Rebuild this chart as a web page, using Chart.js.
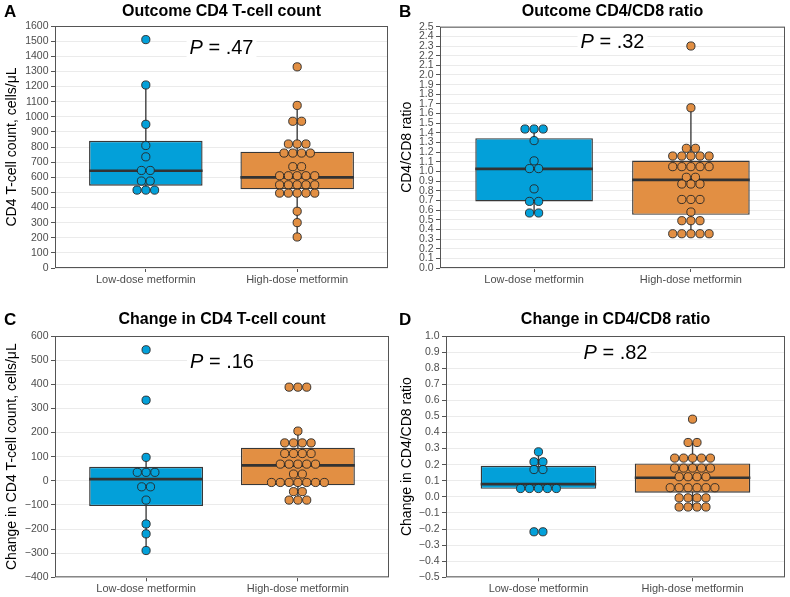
<!DOCTYPE html>
<html>
<head>
<meta charset="utf-8">
<script src="https://cdn.jsdelivr.net/npm/chart.js@4.4.1/dist/chart.umd.min.js"></script>
<style>
  body { margin: 0; background: #fff; width: 790px; height: 597px; position: relative; overflow: hidden; }
  .panel { position: absolute; }
</style>
</head>
<body>
<div class="panel" style="left:0;top:0"><canvas id="chartA" width="395" height="298"></canvas></div>
<div class="panel" style="left:395px;top:0"><canvas id="chartB" width="395" height="298"></canvas></div>
<div class="panel" style="left:0;top:308px"><canvas id="chartC" width="395" height="289"></canvas></div>
<div class="panel" style="left:395px;top:308px"><canvas id="chartD" width="395" height="289"></canvas></div>
<script>
const groups = ['Low-dose metformin', 'High-dose metformin'];
const fillColors = ['#03a0d9', '#e28f43'];

// box stats are [lower whisker, q1, median, q3, upper whisker]

// A - outcome CD4 T-cell count
const countLow = [1510, 1210, 950, 810, 735, 645, 645, 575, 575, 515, 515, 515];
const countHigh = [1330, 1075, 970, 970, 820, 820, 820, 760, 760, 760, 760, 670, 670,
  610, 610, 610, 610, 610, 550, 550, 550, 550, 550, 495, 495, 495, 495, 495, 375, 300, 205];
const countLowBox = [515, 544, 643, 841, 1210];
const countHighBox = [205, 520, 599, 769, 1075];

// B - outcome CD4/CD8 ratio
const ratioLow = [1.44, 1.44, 1.44, 1.32, 1.11, 1.03, 1.03, 0.82, 0.69, 0.69, 0.57, 0.57];
const ratioHigh = [2.30, 1.66, 1.24, 1.24, 1.16, 1.16, 1.16, 1.16, 1.16, 1.05, 1.05, 1.05, 1.05, 1.05,
  0.94, 0.94, 0.87, 0.87, 0.87, 0.71, 0.71, 0.71, 0.58, 0.49, 0.49, 0.49, 0.355, 0.355, 0.355, 0.355, 0.355];
const ratioLowBox = [0.57, 0.689, 1.027, 1.345, 1.44];
const ratioHighBox = [0.355, 0.551, 0.913, 1.113, 1.66];

// C - change in CD4 T-cell count
const countChangeLow = [543, 334, 97, 35, 35, 35, -25, -25, -80, -179, -220, -289];
const countChangeHigh = [388, 388, 388, 206, 157, 157, 157, 157, 113, 113, 113, 113, 69, 69, 69, 69, 69,
  28, 28, -7, -7, -7, -7, -7, -7, -7, -45, -45, -80, -80, -80];
const countChangeLowBox = [-289, -105, 7, 58, 97];
const countChangeHighBox = [-80, -19, 64, 137, 206];

// D - change in CD4/CD8 ratio
const ratioChangeLow = [0.28, 0.218, 0.218, 0.17, 0.17, 0.052, 0.052, 0.052, 0.052, 0.052, -0.217, -0.217];
const ratioChangeHigh = [0.483, 0.338, 0.338, 0.241, 0.241, 0.241, 0.241, 0.241, 0.179, 0.179, 0.179, 0.179, 0.179,
  0.125, 0.125, 0.125, 0.125, 0.057, 0.057, 0.057, 0.057, 0.057, 0.057, -0.006, -0.006, -0.006, -0.006,
  -0.063, -0.063, -0.063, -0.063];
const ratioChangeLowBox = [0.05, 0.05, 0.079, 0.193, 0.28];
const ratioChangeHighBox = [-0.063, 0.026, 0.119, 0.208, 0.338];

const pValues = ['.47', '.32', '.16', '.82'];

Chart.defaults.font.family = '"Liberation Sans", Arial, Helvetica, sans-serif';

const BOX_W = 0.75;   // box width in category units
const DOT_STEP = 0.058; // dot spacing in category units

// spread equal values side by side, centred on the category
function dotRow(values, xc) {
  const counts = {};
  values.forEach(v => { counts[v] = (counts[v] || 0) + 1; });
  const seen = {};
  return values.map(v => {
    seen[v] = (seen[v] || 0) + 1;
    return { x: xc + (seen[v] - 1 - (counts[v] - 1) / 2) * DOT_STEP, y: v };
  });
}

function fmtTick(v, dec) {
  return v.toFixed(dec).replace('-', '\u2212');
}

const panelExtras = {
  id: 'panelExtras',
  afterDatasetsDraw(chart, args, o) {
    const { ctx, chartArea: a } = chart;
    const xs = chart.scales.x, ys = chart.scales.y;
    ctx.save();
    // p value label with white backing
    const px = xs.getPixelForValue(1.5), py = ys.getPixelForValue(o.pY);
    ctx.font = 'italic 20px "Liberation Sans", Arial, sans-serif';
    const wP = ctx.measureText('P').width;
    ctx.font = '20px "Liberation Sans", Arial, sans-serif';
    const rest = ' = ' + o.p;
    const wR = ctx.measureText(rest).width;
    const x0 = px - (wP + wR) / 2;
    ctx.fillStyle = '#fff';
    ctx.fillRect(x0 - 3, py - 11, wP + wR + 6, 22);
    ctx.fillStyle = '#000';
    ctx.textBaseline = 'middle';
    ctx.font = 'italic 20px "Liberation Sans", Arial, sans-serif';
    ctx.fillText('P', x0, py);
    ctx.font = '20px "Liberation Sans", Arial, sans-serif';
    ctx.fillText(rest, x0 + wP, py);
    // panel frame
    ctx.strokeStyle = '#555';
    ctx.lineWidth = 1;
    ctx.strokeRect(a.left + 0.5, a.top + 0.5, a.right - a.left - 1, a.bottom - a.top - 1);
    // panel letter
    ctx.font = 'bold 17px "Liberation Sans", Arial, sans-serif';
    ctx.textBaseline = 'middle';
    ctx.fillText(o.letter, 4, 12);
    ctx.restore();
  }
};

function makePanel(id, p) {
  const lowBox = p.lowBox, highBox = p.highBox;
  const whiskers = [
    { x: 1, y: lowBox[0] }, { x: 1, y: lowBox[4] }, { x: 1.5, y: null },
    { x: 2, y: highBox[0] }, { x: 2, y: highBox[4] }
  ];
  const medians = [
    { x: 1 - BOX_W / 2, y: lowBox[2] }, { x: 1 + BOX_W / 2, y: lowBox[2] }, { x: 1.5, y: null },
    { x: 2 - BOX_W / 2, y: highBox[2] }, { x: 2 + BOX_W / 2, y: highBox[2] }
  ];
  new Chart(document.getElementById(id), {
    type: 'scatter',
    data: {
      datasets: [
        {
          data: dotRow(p.low, 1), backgroundColor: fillColors[0], borderColor: '#262626',
          borderWidth: 0.9, pointRadius: 4.1, order: 0
        },
        {
          data: dotRow(p.high, 2), backgroundColor: fillColors[1], borderColor: '#262626',
          borderWidth: 0.9, pointRadius: 4.1, order: 0
        },
        {
          type: 'line', data: medians, borderColor: '#333', borderWidth: 2.6,
          pointRadius: 0, spanGaps: false, order: 1
        },
        {
          type: 'bar',
          data: [{ x: 1, y: [lowBox[1], lowBox[3]] }, { x: 2, y: [highBox[1], highBox[3]] }],
          backgroundColor: fillColors, borderColor: '#383838', borderWidth: 1.4,
          borderSkipped: false, barPercentage: BOX_W, categoryPercentage: 1, order: 2
        },
        {
          type: 'line', data: whiskers, borderColor: '#404040', borderWidth: 1.4,
          pointRadius: 0, spanGaps: false, order: 3
        }
      ]
    },
    options: {
      responsive: false,
      animation: false,
      events: [],
      layout: { padding: { left: 0, right: p.padRight, top: 0, bottom: 0 } },
      plugins: {
        legend: { display: false },
        tooltip: { enabled: false },
        title: {
          display: true, text: p.title, fullSize: false, color: '#000',
          font: { size: 16, weight: 'bold' }, padding: { top: 2, bottom: p.titleGap }
        },
        panelExtras: { p: p.pText, pY: p.pY, letter: p.letter }
      },
      scales: {
        x: {
          type: 'linear', min: 0.4, max: 2.6, offset: false,
          afterBuildTicks: s => { s.ticks = [{ value: 1 }, { value: 2 }]; },
          afterFit: s => { s.height = p.xHeight; },
          grid: { offset: false, drawOnChartArea: false, tickLength: 4, tickColor: '#555' },
          border: { display: false },
          ticks: {
            autoSkip: false, maxRotation: 0, padding: 1, color: '#4d4d4d', font: { size: 11 },
            callback: v => groups[v - 1]
          }
        },
        y: {
          min: p.yMin, max: p.yMax,
          afterFit: s => { s.width = p.yWidth; },
          grid: { offset: false, color: '#ebebeb', lineWidth: 1, tickLength: 4, tickColor: '#555' },
          border: { display: false },
          ticks: {
            stepSize: p.step, autoSkip: false, padding: 2.5, color: '#4d4d4d', font: { size: 10.5 },
            callback: v => fmtTick(v, p.dec)
          },
          title: { display: true, text: p.yTitle, color: '#000', font: { size: 14 }, padding: { top: 4, bottom: 2 } }
        }
      }
    },
    plugins: [panelExtras]
  });
}

makePanel('chartA', {
  letter: 'A', title: 'Outcome CD4 T-cell count', yTitle: 'CD4 T-cell count, cells/\u03bcL',
  low: countLow, high: countHigh, lowBox: countLowBox, highBox: countHighBox,
  yMin: 0, yMax: 1600, step: 100, dec: 0, pText: pValues[0], pY: 1450,
  yWidth: 55, padRight: 7, titleGap: 4.8, xHeight: 30
});
makePanel('chartB', {
  letter: 'B', title: 'Outcome CD4/CD8 ratio', yTitle: 'CD4/CD8 ratio',
  low: ratioLow, high: ratioHigh, lowBox: ratioLowBox, highBox: ratioHighBox,
  yMin: 0, yMax: 2.5, step: 0.1, dec: 1, pText: pValues[1], pY: 2.34,
  yWidth: 45, padRight: 4, titleGap: 5.5, xHeight: 30
});
makePanel('chartC', {
  letter: 'C', title: 'Change in CD4 T-cell count', yTitle: 'Change in CD4 T-cell count, cells/\u03bcL',
  low: countChangeLow, high: countChangeHigh, lowBox: countChangeLowBox, highBox: countChangeHighBox,
  yMin: -400, yMax: 600, step: 100, dec: 0, pText: pValues[2], pY: 492,
  yWidth: 55, padRight: 6, titleGap: 6.8, xHeight: 19.7
});
makePanel('chartD', {
  letter: 'D', title: 'Change in CD4/CD8 ratio', yTitle: 'Change in CD4/CD8 ratio',
  low: ratioChangeLow, high: ratioChangeHigh, lowBox: ratioChangeLowBox, highBox: ratioChangeHighBox,
  yMin: -0.5, yMax: 1.0, step: 0.1, dec: 1, pText: pValues[3], pY: 0.894,
  yWidth: 51, padRight: 4, titleGap: 6.8, xHeight: 19.7
});
</script>
</body>
</html>
